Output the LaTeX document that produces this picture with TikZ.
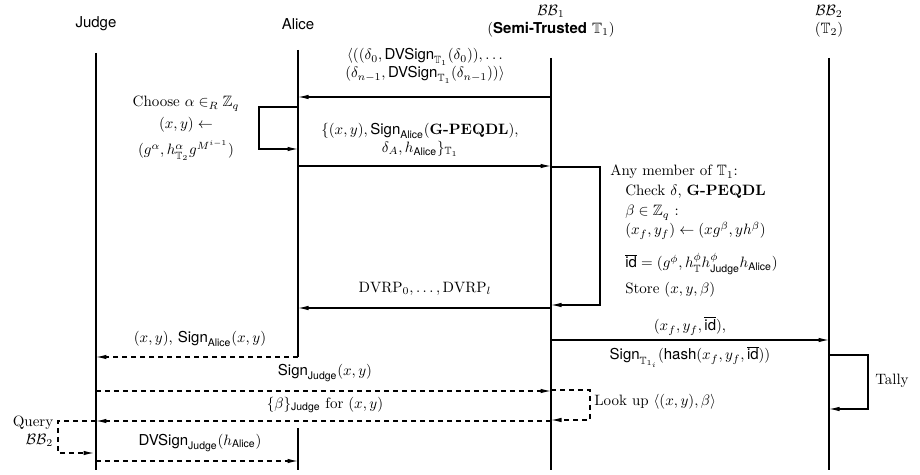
\documentclass[tikz,border=0pt]{standalone}
\usepackage{amsmath,amssymb}
\usepackage{fontspec}
\setsansfont{TeX Gyre Heros}
\usetikzlibrary{arrows.meta}

\newcommand{\SignOp}{\textsf{Sign}}
\newcommand{\DVSignOp}{\textsf{DVSign}}
\newcommand{\Alc}{\textsf{Alice}}
\newcommand{\Jdg}{\textsf{Judge}}
\newcommand{\idbar}{\overline{\textsf{id}}}

\begin{document}
\begin{tikzpicture}[x=0.667pt,y=-0.667pt,
  lifeline/.style={line width=0.7pt},
  msg/.style={line width=0.7pt,-{Latex[length=7pt,width=3pt]}},
  reply/.style={msg,dash pattern=on 3.3pt off 2.7pt},
  lbl/.style={inner sep=1pt,align=center}]
\useasboundingbox (0,0) rectangle (920,475);

% parties
\node (judge) at (96,24) {\textsf{Judge}};
\node (alice) at (298,24) {\textsf{Alice}};
\node[lbl] (bbone) at (551,21) {$\mathcal{BB}_1$\\(\textsf{\textbf{Semi-Trusted}} $\mathbb{T}_1$)};
\node[lbl] (bbtwo) at (829,21) {$\mathcal{BB}_2$\\($\mathbb{T}_2$)};

% lifelines
\coordinate (jtop) at (96,53);   \coordinate (jbot) at (96,470);
\coordinate (atop) at (298,50);  \coordinate (amid) at (298,357);
\coordinate (aback) at (298,428); \coordinate (abot) at (298,470);
\coordinate (btop) at (551,58);  \coordinate (bbot) at (551,470);
\coordinate (ctop) at (829,58);  \coordinate (cbot) at (829,470);
\draw[lifeline] (jtop) -- (jbot);
\draw[lifeline] (atop) -- (amid);
\draw[lifeline] (aback) -- (abot);
\draw[lifeline] (btop) -- (bbot);
\draw[lifeline] (ctop) -- (cbot);

% message end points
\coordinate (b1) at (551,97);  \coordinate (a1) at (298,97);
\coordinate (a2) at (298,107); \coordinate (a3) at (298,149);
\coordinate (a4) at (298,166); \coordinate (b2) at (551,166);
\coordinate (b3) at (551,167); \coordinate (b4) at (551,305);
\coordinate (b5) at (551,308); \coordinate (a5) at (298,308);
\coordinate (a6) at (298,357); \coordinate (j1) at (96,357);
\coordinate (b6) at (551,340); \coordinate (c1) at (829,340);
\coordinate (c2) at (829,355); \coordinate (c3) at (829,409);
\coordinate (j2) at (96,391);  \coordinate (b7) at (551,391);
\coordinate (b8) at (551,390); \coordinate (b9) at (551,420);
\coordinate (b10) at (551,421); \coordinate (j3) at (96,421);
\coordinate (j4) at (96,421);  \coordinate (j5) at (94,453);
\coordinate (j6) at (96,461);  \coordinate (a7) at (298,461);

% BB1 sends the signed deltas
\draw[msg] (b1) -- (a1);
\node[lbl] (deltas) at (425,66) {$\langle((\delta_0, \DVSignOp_{\mathbb{T}_1}(\delta_0)), \ldots$\\
  $(\delta_{n-1}, \DVSignOp_{\mathbb{T}_1}(\delta_{n-1}))\rangle$};

% Alice builds her pair
\draw[msg] (a2) -- ++(-39,0) |- (a3);
\node[anchor=base,inner sep=0pt] (choose1) at (186,107) {Choose $\alpha \in_R \mathbb{Z}_q$};
\node[anchor=base,inner sep=0pt] (choose2) at (186,129) {$(x, y) \leftarrow$};
\node[anchor=base,inner sep=0pt] (choose3) at (186,155) {$(g^{\alpha}, h^{\alpha}_{\mathbb{T}_2} g^{M^{i-1}})$};

\draw[msg] (a4) -- (b2);
\node[lbl] (cast) at (420,140) {$\{(x, y), \SignOp_{\Alc}(\textbf{G-PEQDL}),$\\
  $\delta_A, h_{\Alc}\}_{\mathbb{T}_1}$};

% BB1 checks and stores
\draw[msg] (b3) -- ++(49,0) |- (b4);
\node[anchor=base west] (chk1) at (605,176) {Any member of $\mathbb{T}_1$:};
\node[anchor=base west] (chk2) at (620,196) {Check $\delta$, \textbf{G-PEQDL}};
\node[anchor=base west] (chk3) at (620,216) {$\beta \in \mathbb{Z}_q$ :};
\node[anchor=base west] (chk4) at (620,235) {$(x_f, y_f) \leftarrow (xg^{\beta}, yh^{\beta})$};
\node[anchor=base west] (chk5) at (620,268) {$\idbar = (g^{\phi}, h^{\phi}_{\mathbb{T}} h^{\phi}_{\Jdg} h_{\Alc})$};
\node[anchor=base west] (chk6) at (620,294) {Store $(x, y, \beta)$};

\draw[msg] (b5) -- (a5);
\node[lbl] (dvrp) at (425,289) {$\mathrm{DVRP}_0, \ldots, \mathrm{DVRP}_l$};

\draw[reply] (a6) -- (j1);
\node[lbl] (receipt) at (200,339) {$(x, y)$, $\SignOp_{\Alc}(x, y)$};

% BB1 posts to BB2
\draw[msg] (b6) -- (c1);
\node[lbl] (post) at (690,326) {$(x_f, y_f, \idbar)$,};
\node[lbl] (postsig) at (690,357) {$\SignOp_{\mathbb{T}_{1_i}}(\textsf{hash}(x_f, y_f, \idbar))$};

\draw[msg] (c2) -- ++(39,0) |- (c3);
\node[anchor=west] (tally) at (870,381) {Tally};

% dispute
\draw[reply] (j2) -- (b7);
\node[lbl] (jsig) at (325,373) {$\SignOp_{\Jdg}(x, y)$};

\draw[reply] (b8) -- ++(39,0) |- (b9);
\node[anchor=west] (lookup) at (589,402) {Look up $\langle (x, y), \beta\rangle$};

\draw[reply] (b10) -- (j3);
\node[lbl] (beta) at (325,405) {$\{\beta\}_{\Jdg}$ for $(x, y)$};

\draw[reply] (j4) -- ++(-38,0) |- (j5);
\node[lbl,align=right,anchor=east] (query) at (55,431) {Query\\$\mathcal{BB}_2$};

\draw[reply] (j6) -- (a7);
\node[lbl] (dvsign) at (200,443) {$\DVSignOp_{\Jdg}(h_{\Alc})$};
\end{tikzpicture}
\end{document}
